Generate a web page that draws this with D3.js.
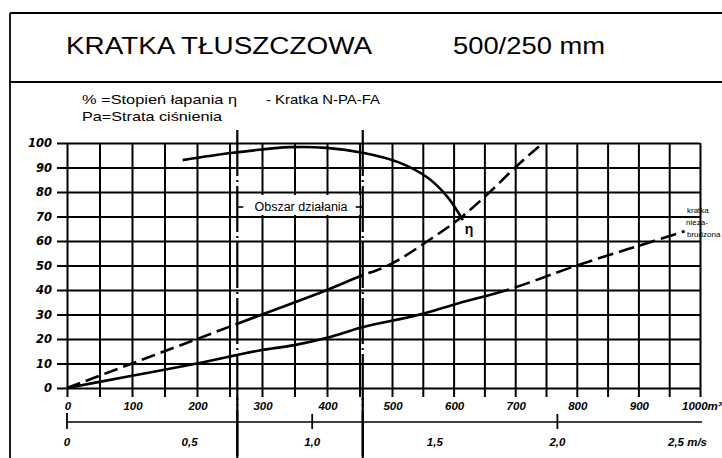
<!DOCTYPE html>
<html>
<head>
<meta charset="utf-8">
<script src="https://cdn.jsdelivr.net/npm/d3@7/dist/d3.min.js"></script>
<style>
  html, body { margin: 0; padding: 0; background: #fff; }
  svg { display: block; }
  .tick-lbl { font-family: "DejaVu Sans", sans-serif; font-weight: bold; font-style: italic; fill: #000; }
  .tick-lbl-n { font-family: "Liberation Sans", Arial, sans-serif; font-weight: bold; font-style: italic; fill: #000; }
  .txt { font-family: "Liberation Sans", Arial, sans-serif; fill: #000; }
</style>
</head>
<body>
<script>
// Flow axis (m³/h) and percentage / pressure axis
const flowGrid = [0,50,100,150,200,250,300,350,400,450,500,550,600,650,700,750,800,850,900,950,1000];
const flowTicks = [0,100,200,300,400,500,600,700,800,900,1000];
const flowLabels = ["0","100","200","300","400","500","600","700","800","900","1000m³"];
const pctTicks = [0,10,20,30,40,50,60,70,80,90,100];
const pctLabels = ["0","10","20","30","40","50","60","70","80","90","100"];

// Face velocity axis (m/s)
const velTicks = [0, 0.5, 1.0, 1.5, 2.0, 2.5];
const velLabels = ["0", "0,5", "1,0", "1,5", "2,0", "2,5 m/s"];
const velMajor = [0, 1.0, 2.0];

// Separation efficiency η (%)
const etaFlow = [178, 255, 343, 400, 455, 512, 557, 590, 615];
const etaPct  = [93, 96, 98.3, 98, 96, 92, 86, 78, 68.5];

// Pressure loss Pa – steeper curve
const dirtyFlow = [0, 100, 200, 300, 400, 450, 494, 558, 614, 659, 700, 745];
const dirtyPa   = [0, 10, 20, 30, 40, 45.5, 50, 60, 70, 80, 90, 100];

// Pressure loss Pa – clean grate ("kratka niezabrudzona")
const cleanFlow = [0, 100, 200, 300, 350, 400, 450, 545, 600, 687, 800, 925, 975];
const cleanPa   = [0, 5, 10, 15.5, 17.5, 20.5, 24.5, 30, 34, 40, 50, 60, 64];

// Operating range bounds (m³/h)
const opRange = [262, 455];

const W = 722, H = 458;
const svg = d3.select("body").append("svg").attr("width", W).attr("height", H);

const x = d3.scaleLinear().domain([0, 500, 1000]).range([67, 392, 700]);
const y = d3.scaleLinear().domain([0, 100]).range([388, 143]);
const v = d3.scaleLinear().domain([0, 2.5]).range([67, 680]);

// Outer frame
svg.append("line").attr("x1", 10).attr("x2", W).attr("y1", 13).attr("y2", 13).attr("stroke", "#000").attr("stroke-width", 1.8);
svg.append("line").attr("x1", 10).attr("x2", W).attr("y1", 82).attr("y2", 82).attr("stroke", "#000").attr("stroke-width", 1.8);
svg.append("line").attr("x1", 10).attr("x2", 10).attr("y1", 13).attr("y2", H).attr("stroke", "#000").attr("stroke-width", 1.8);

// Title (the lettering is wide, so it is fitted to its measured span)
svg.append("text").attr("class", "txt").attr("x", 66).attr("y", 54).attr("font-size", 24)
  .attr("textLength", 306).attr("lengthAdjust", "spacingAndGlyphs").text("KRATKA TŁUSZCZOWA");
svg.append("text").attr("class", "txt").attr("x", 453).attr("y", 54).attr("font-size", 24)
  .attr("textLength", 152).attr("lengthAdjust", "spacingAndGlyphs").text("500/250 mm");

// Legend texts
svg.append("text").attr("class", "txt").attr("x", 82).attr("y", 104).attr("font-size", 13)
  .attr("textLength", 155).attr("lengthAdjust", "spacingAndGlyphs").text("% =Stopień łapania η");
svg.append("text").attr("class", "txt").attr("x", 266).attr("y", 104).attr("font-size", 13)
  .attr("textLength", 114).attr("lengthAdjust", "spacingAndGlyphs").text("- Kratka N-PA-FA");
svg.append("text").attr("class", "txt").attr("x", 82).attr("y", 121).attr("font-size", 13)
  .attr("textLength", 140).attr("lengthAdjust", "spacingAndGlyphs").text("Pa=Strata ciśnienia");

// Vertical grid (extends a little below the zero line)
const gx = svg.append("g").attr("transform", `translate(0,397)`)
  .call(d3.axisBottom(x).tickValues(flowGrid).tickSize(-(397 - y(100))).tickFormat(""));
gx.select(".domain").remove();
gx.selectAll(".tick line").attr("stroke", "#000").attr("stroke-width", 2);

// Horizontal grid (extends a little left of the zero flow line)
const gy = svg.append("g").attr("transform", `translate(57,0)`)
  .call(d3.axisLeft(y).tickValues(pctTicks).tickSize(-(x(1000) - 57)).tickFormat(""));
gy.select(".domain").remove();
gy.selectAll(".tick line").attr("stroke", "#000").attr("stroke-width", 2);

// Y tick labels
svg.append("g").selectAll("text").data(pctTicks).join("text")
  .attr("class", "tick-lbl").attr("font-size", 11.5)
  .attr("x", 52).attr("y", d => y(d)).attr("dy", "0.36em")
  .attr("text-anchor", "end")
  .text((d, i) => pctLabels[i]);

// X tick labels
svg.append("g").selectAll("text").data(flowTicks).join("text")
  .attr("class", "tick-lbl-n").attr("font-size", 11.5)
  .attr("x", (d, i) => i === flowTicks.length - 1 ? x(d) - 18 : x(d) + 1)
  .attr("y", 410)
  .attr("text-anchor", (d, i) => i === flowTicks.length - 1 ? "start" : "middle")
  .text((d, i) => flowLabels[i]);

// Velocity axis
svg.append("line").attr("x1", v(0)).attr("x2", 702).attr("y1", 422).attr("y2", 422)
  .attr("stroke", "#000").attr("stroke-width", 1.6);
svg.append("g").selectAll("line").data(velMajor).join("line")
  .attr("x1", d => v(d)).attr("x2", d => v(d))
  .attr("y1", (d, i) => i === 0 ? 413 : 414).attr("y2", 429)
  .attr("stroke", "#000").attr("stroke-width", 1.8);
svg.append("g").selectAll("text").data(velTicks).join("text")
  .attr("class", "tick-lbl-n").attr("font-size", 11.5)
  .attr("x", (d, i) => i === velTicks.length - 1 ? v(d) - 12 : v(d))
  .attr("y", 446)
  .attr("text-anchor", (d, i) => i === velTicks.length - 1 ? "start" : "middle")
  .text((d, i) => velLabels[i]);

// Operating range: dash-dot boundaries
svg.append("g").selectAll("line").data(opRange).join("line")
  .attr("x1", d => x(d)).attr("x2", d => x(d))
  .attr("y1", 130).attr("y2", H)
  .attr("stroke", "#000").attr("stroke-width", 2.2)
  .attr("stroke-dasharray", "46,4,2,4");
// solid below the flow axis
svg.append("g").selectAll("line").data(opRange).join("line")
  .attr("x1", d => x(d)).attr("x2", d => x(d))
  .attr("y1", 398).attr("y2", H)
  .attr("stroke", "#000").attr("stroke-width", 2.2);

// "Obszar działania" label
const labY = 206;
svg.append("rect").attr("x", x(opRange[0]) + 3).attr("y", labY - 11)
  .attr("width", x(opRange[1]) - x(opRange[0]) - 6).attr("height", 20).attr("fill", "#fff");
svg.append("text").attr("class", "txt").attr("font-size", 12.5)
  .attr("x", (x(opRange[0]) + x(opRange[1])) / 2 + 1).attr("y", labY).attr("dy", "0.36em")
  .attr("text-anchor", "middle").text("Obszar działania");
svg.append("line").attr("x1", x(opRange[0])).attr("x2", x(opRange[0]) + 6).attr("y1", labY + 1).attr("y2", labY + 1)
  .attr("stroke", "#000").attr("stroke-width", 1.6);
svg.append("line").attr("x1", x(opRange[1]) - 7).attr("x2", x(opRange[1])).attr("y1", labY + 1).attr("y2", labY + 1)
  .attr("stroke", "#000").attr("stroke-width", 1.6);

// Curves
const line = d3.line().x(d => x(d[0])).y(d => y(d[1])).curve(d3.curveMonotoneX);
const eta = etaFlow.map((f, i) => [f, etaPct[i]]);
const dirty = dirtyFlow.map((f, i) => [f, dirtyPa[i]]);
const clean = cleanFlow.map((f, i) => [f, cleanPa[i]]);

svg.append("path").datum(eta).attr("d", line.curve(d3.curveCatmullRom.alpha(0.5)))
  .attr("fill", "none").attr("stroke", "#000").attr("stroke-width", 2.6);
line.curve(d3.curveMonotoneX);

// path length at which a path reaches a given flow value
function lenAtFlow(node, fx) {
  const total = node.getTotalLength();
  let lo = 0, hi = total;
  for (let k = 0; k < 40; k++) {
    const mid = (lo + hi) / 2;
    if (node.getPointAtLength(mid).x < x(fx)) lo = mid; else hi = mid;
  }
  return lo;
}

// steeper Pa curve: dashed outside the operating range, solid inside
const dirtyPath = svg.append("path").datum(dirty).attr("d", line)
  .attr("fill", "none").attr("stroke", "#000").attr("stroke-width", 2.6);
{
  const node = dirtyPath.node();
  const total = node.getTotalLength();
  const a = lenAtFlow(node, opRange[0] + 8), b = lenAtFlow(node, opRange[1]);
  const pattern = [];
  let s = 0;
  while (s + 20 < a) { pattern.push(14, 6); s += 20; }
  pattern.push(b - s, 6); s = b + 6;
  while (s < total) { pattern.push(14, 6); s += 20; }
  dirtyPath.attr("stroke-dasharray", pattern.join(","));
}

// clean grate curve: solid then dashed
const cleanPath = svg.append("path").datum(clean).attr("d", line)
  .attr("fill", "none").attr("stroke", "#000").attr("stroke-width", 2.6);
{
  const node = cleanPath.node();
  const total = node.getTotalLength();
  const lo = lenAtFlow(node, 690);
  const pattern = [lo, 6];
  let s = lo + 6;
  while (s < total) { pattern.push(16, 6); s += 22; }
  cleanPath.attr("stroke-dasharray", pattern.join(","));
}

// η label
svg.append("text").attr("class", "txt").attr("font-size", 14).attr("font-weight", "bold")
  .attr("x", x(etaFlow[etaFlow.length - 1]) + 2).attr("y", y(etaPct[etaPct.length - 1]) + 14)
  .text("η");

// Clean grate note
const note = ["kratka", "nieza-", "brudzona"];
svg.append("g").selectAll("text").data(note).join("text")
  .attr("class", "txt").attr("font-size", 8).attr("fill", "#111")
  .attr("x", (d, i) => i === 1 ? 686 : 687).attr("y", (d, i) => 213 + i * 12)
  .text(d => d);
</script>
</body>
</html>
